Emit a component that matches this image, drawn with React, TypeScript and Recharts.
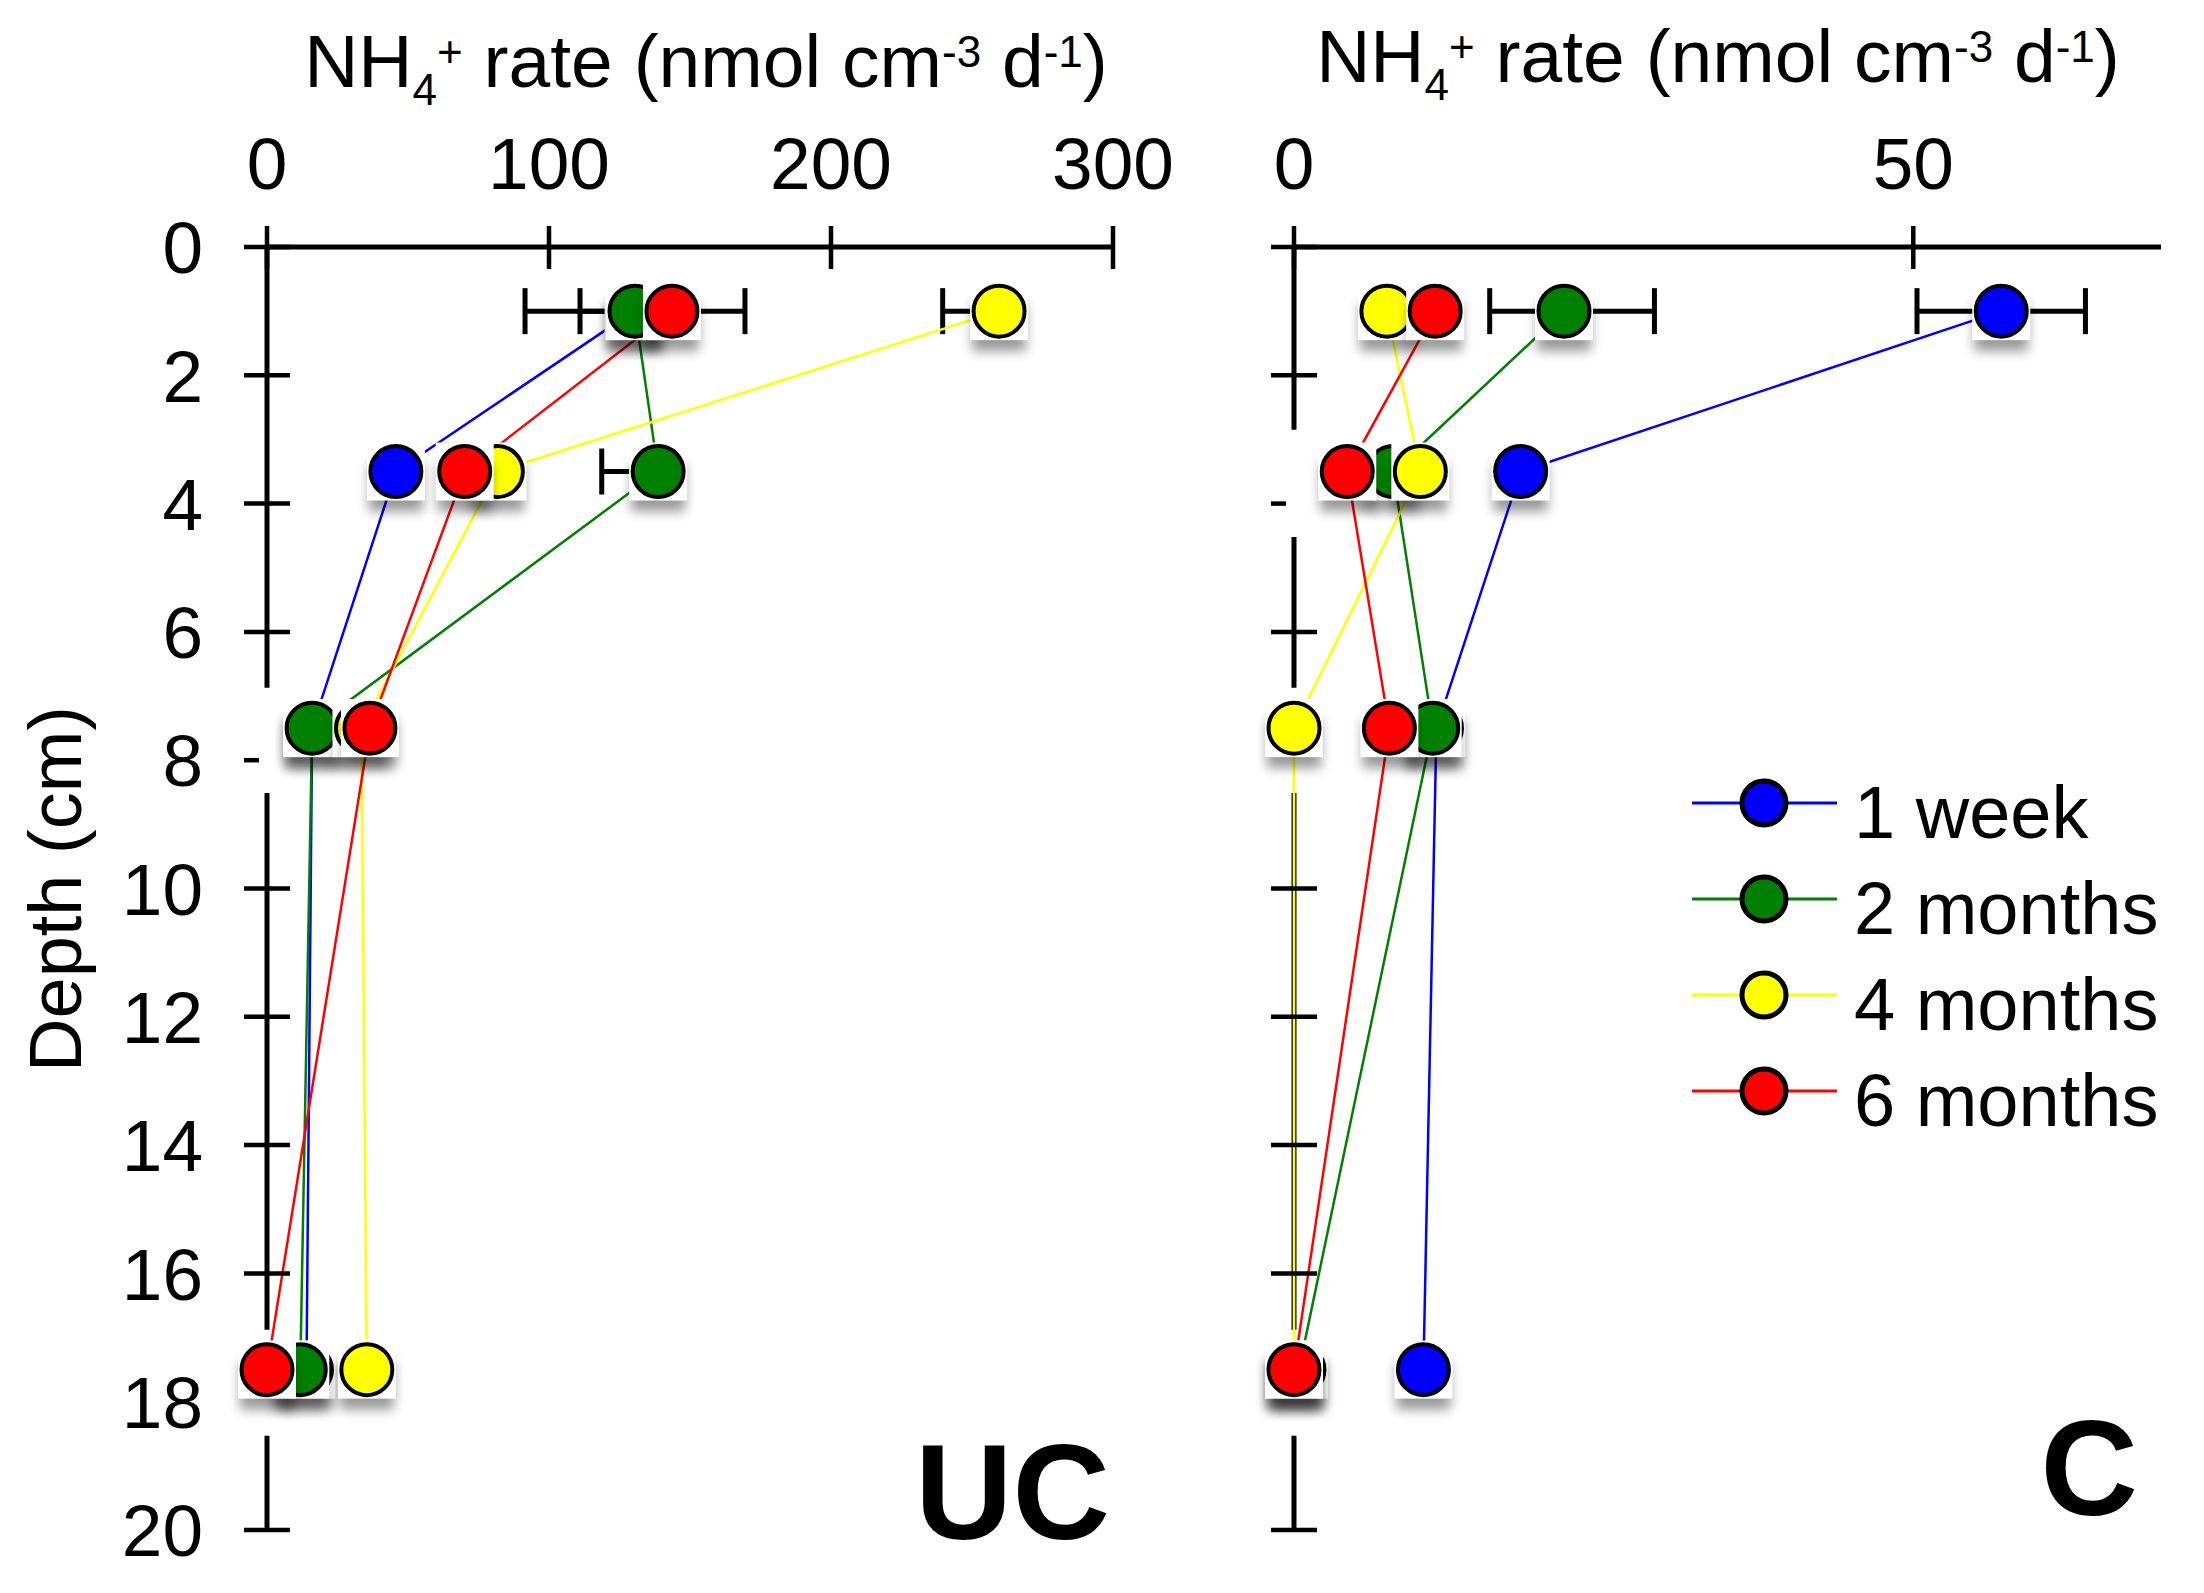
import React from 'react'
import { ScatterChart, Scatter, XAxis, YAxis, ErrorBar, ReferenceLine, Legend } from 'recharts'

const FONT = '"Liberation Sans", Arial, Helvetica, sans-serif'

const depths = [1, 3.5, 7.5, 17.5]
const depthTicks = [0, 2, 4, 6, 8, 10, 12, 14, 16, 18, 20]

const seriesNames = ['1 week', '2 months', '4 months', '6 months']
const seriesColors = ['#0000ff', '#008000', '#ffff00', '#ff0000']

// UC panel (uncapped), nmol cm-3 d-1
const ucWeek1 = [130, 45.7, 16, 14]
const ucMonths2 = [130.5, 138.7, 16, 11.8]
const ucMonths4 = [259.6, 81.7, 33.5, 35.4]
const ucMonths6 = [143.6, 70.1, 36.5, 0]

// error bars as [left, right]
const ucWeek1Err = [[19, 19], [0, 0], [0, 0], [0, 0]]
const ucMonths2Err = [[39, 39], [20, 0], [0, 0], [0, 0]]
const ucMonths4Err = [[20, 0], [0, 0], [0, 0], [0, 0]]
const ucMonths6Err = [[8, 8], [0, 0], [0, 0], [0, 0]]

// C panel (capped)
const cWeek1 = [57.1, 18.3, 11.5, 10.45]
const cMonths2 = [21.8, 8.0, 11.2, 0.4]
const cMonths4 = [7.5, 10.2, 0, 0]
const cMonths6 = [11.4, 4.3, 7.7, 0]

const cWeek1Err = [[6.8, 6.8], [0, 0], [0, 0], [0, 0]]
const cMonths2Err = [[6, 7.3], [0, 0], [0, 0], [0, 0]]
const cMonths4Err = [[0, 0], [0, 0], [0, 0], [0, 0]]
const cMonths6Err = [[0, 0], [0, 0], [0, 0], [0, 0]]

const ucXTicks = [0, 100, 200, 300]
const cXTicks = [0, 50]

// pieces of the depth axis that are visible (the rest is hidden behind the symbols)
const ucAxisSegments = [[0, 6.87], [8.51, 16.88], [18.53, 20]]
const cAxisSegments = [[0, 2.85], [4.52, 6.87], [8.51, 16.88], [18.53, 20]]
const ucHalfTicks = [8]
const ucHiddenTicks = [18]
const cHalfTicks = [4]
const cHiddenTicks = [8, 18]

const toRows = (vals: number[], errs: number[][]) =>
  depths.map((d, i) => ({ x: vals[i], y: d, err: errs[i] }))

const ucSeries = [
  toRows(ucWeek1, ucWeek1Err),
  toRows(ucMonths2, ucMonths2Err),
  toRows(ucMonths4, ucMonths4Err),
  toRows(ucMonths6, ucMonths6Err),
]
const cSeries = [
  toRows(cWeek1, cWeek1Err),
  toRows(cMonths2, cMonths2Err),
  toRows(cMonths4, cMonths4Err),
  toRows(cMonths6, cMonths6Err),
]

const Marker = (props: any) => {
  const { cx, cy, fill } = props
  if (cx == null || cy == null) return <g />
  return (
    <g>
      <defs>
        <filter id="mshadow" x="-50%" y="-50%" width="200%" height="200%">
          <feGaussianBlur stdDeviation="6" />
        </filter>
      </defs>
      <rect x={cx - 27} y={cy - 8} width={54} height={48} fill="#000" opacity={0.4} filter="url(#mshadow)" />
      <rect x={cx - 29} y={cy - 29} width={58} height={58} fill="#fff" />
      <circle cx={cx} cy={cy} r={25.5} fill={fill} stroke="#000" strokeWidth={4} />
    </g>
  )
}

const NoShape = () => <g />

const XTick = (props: any) => {
  const { x, y, payload } = props
  return (
    <g>
      <line x1={x} x2={x} y1={y - 21} y2={y + 22} stroke="#000" strokeWidth={4.5} />
      <text x={x} y={y - 58} textAnchor="middle" fontSize={73} fontFamily={FONT} fill="#000">
        {payload.value}
      </text>
    </g>
  )
}

const makeYTick = (half: number[], hidden: number[], withLabel: boolean) => (props: any) => {
  const { x, y, payload } = props
  const v = payload.value
  const right = half.includes(v) ? x - 8 : x + 23
  return (
    <g>
      {!hidden.includes(v) && <line x1={x - 23} x2={right} y1={y} y2={y} stroke="#000" strokeWidth={4.5} />}
      {withLabel && (
        <text x={x - 64} y={y} dy="0.36em" textAnchor="end" fontSize={73} fontFamily={FONT} fill="#000">
          {v}
        </text>
      )}
    </g>
  )
}

const Title = ({ cx, baseline }: { cx: number; baseline: number }) => (
  <text x={cx} y={baseline} textAnchor="middle" fontSize={75} fontFamily={FONT} fill="#000">
    NH
    <tspan dy={18} fontSize={44}>4</tspan>
    <tspan dy={-38} fontSize={44}>+</tspan>
    <tspan dy={20}>{' rate (nmol cm'}</tspan>
    <tspan dy={-20} fontSize={44}>-3</tspan>
    <tspan dy={20}>{' d'}</tspan>
    <tspan dy={-20} fontSize={44}>-1</tspan>
    <tspan dy={20}>)</tspan>
  </text>
)

const LeftLabels = () => (
  <g>
    <text
      x={81}
      y={889}
      transform="rotate(-90, 81, 889)"
      textAnchor="middle"
      fontSize={74}
      fontFamily={FONT}
      fill="#000"
    >
      Depth (cm)
    </text>
    <text x={1110} y={1539} textAnchor="end" fontSize={135} fontWeight="bold" fontFamily={FONT} fill="#000">
      UC
    </text>
  </g>
)

const RightLabels = () => (
  <text x={988} y={1515} textAnchor="end" fontSize={135} fontWeight="bold" fontFamily={FONT} fill="#000">
    C
  </text>
)

const LegendBox = () => (
  <svg width={1054} height={1593} style={{ position: 'absolute', left: 0, top: 0 }}>
    {seriesNames.map((name, i) => {
      const y = 803 + i * 96
      return (
        <g key={name}>
          <line x1={542} x2={687} y1={y} y2={y} stroke={seriesColors[i]} strokeWidth={3} />
          <circle cx={614} cy={y} r={22} fill={seriesColors[i]} stroke="#000" strokeWidth={5} />
          <text x={704} y={y + 35} fontSize={74} fontFamily={FONT} fill="#000">
            {name}
          </text>
        </g>
      )
    })}
  </svg>
)

type PanelProps = {
  width: number
  plotLeft: number
  plotRight: number
  xMax: number
  xTicks: number[]
  series: { x: number; y: number; err: number[] }[][]
  segments: number[][]
  half: number[]
  hidden: number[]
  withLabels: boolean
  titleX: number
  titleY: number
  labels: React.ReactElement
  legend?: boolean
}

const PLOT_TOP = 247
const PLOT_BOTTOM = 1530
const AXIS_BOX = 30

const Panel = (p: PanelProps) => (
  <ScatterChart
    width={p.width}
    height={1593}
    margin={{
      top: PLOT_TOP - AXIS_BOX,
      left: p.plotLeft - AXIS_BOX,
      right: p.width - p.plotRight,
      bottom: 1593 - PLOT_BOTTOM,
    }}
  >
    <XAxis
      type="number"
      dataKey="x"
      orientation="top"
      domain={[0, p.xMax]}
      ticks={p.xTicks}
      interval={0}
      height={AXIS_BOX}
      tickSize={0}
      tickMargin={0}
      tickLine={false}
      axisLine={{ stroke: '#000', strokeWidth: 5 }}
      tick={<XTick />}
      label={<Title cx={p.titleX} baseline={p.titleY} />}
    />
    <YAxis
      type="number"
      dataKey="y"
      domain={[0, 20]}
      reversed
      ticks={depthTicks}
      interval={0}
      width={AXIS_BOX}
      tickSize={0}
      tickMargin={0}
      tickLine={false}
      axisLine={false}
      tick={makeYTick(p.half, p.hidden, p.withLabels)}
      label={p.labels}
    />
    {p.segments.map((s, i) => (
      <ReferenceLine
        key={`seg${i}`}
        segment={[{ x: 0, y: s[0] }, { x: 0, y: s[1] }]}
        stroke="#000"
        strokeWidth={5}
        ifOverflow="visible"
      />
    ))}
    {p.series.map((rows, i) => (
      <Scatter
        key={`line${i}`}
        name={seriesNames[i]}
        data={rows}
        line={{ stroke: seriesColors[i], strokeWidth: 2.5 }}
        shape={NoShape}
        isAnimationActive={false}
      >
        <ErrorBar dataKey="err" direction="x" width={23} stroke="#000" strokeWidth={5} isAnimationActive={false} />
      </Scatter>
    ))}
    {p.series.map((rows, i) => (
      <Scatter
        key={`pts${i}`}
        name={seriesNames[i]}
        data={rows}
        fill={seriesColors[i]}
        shape={Marker}
        isAnimationActive={false}
      />
    ))}
    {p.legend && (
      <Legend
        layout="horizontal"
        verticalAlign="middle"
        align="center"
        wrapperStyle={{ position: 'absolute', left: 0, top: 0, width: 1054, height: 1593, pointerEvents: 'none' }}
        content={() => <LegendBox />}
      />
    )}
  </ScatterChart>
)

export default function App() {
  return (
    <div
      style={{
        position: 'absolute',
        left: 0,
        top: 0,
        width: 2204,
        height: 1593,
        background: '#fff',
        fontFamily: FONT,
      }}
    >
      <div style={{ position: 'absolute', left: 0, top: 0 }}>
        <Panel
          width={1200}
          plotLeft={267}
          plotRight={1113}
          xMax={300}
          xTicks={ucXTicks}
          series={ucSeries}
          segments={ucAxisSegments}
          half={ucHalfTicks}
          hidden={ucHiddenTicks}
          withLabels
          titleX={706}
          titleY={87}
          labels={<LeftLabels />}
        />
      </div>
      <div style={{ position: 'absolute', left: 1150, top: 0 }}>
        <Panel
          width={1054}
          plotLeft={144}
          plotRight={1011}
          xMax={70}
          xTicks={cXTicks}
          series={cSeries}
          segments={cAxisSegments}
          half={cHalfTicks}
          hidden={cHiddenTicks}
          withLabels={false}
          titleX={568}
          titleY={82}
          labels={<RightLabels />}
          legend
        />
      </div>
    </div>
  )
}
